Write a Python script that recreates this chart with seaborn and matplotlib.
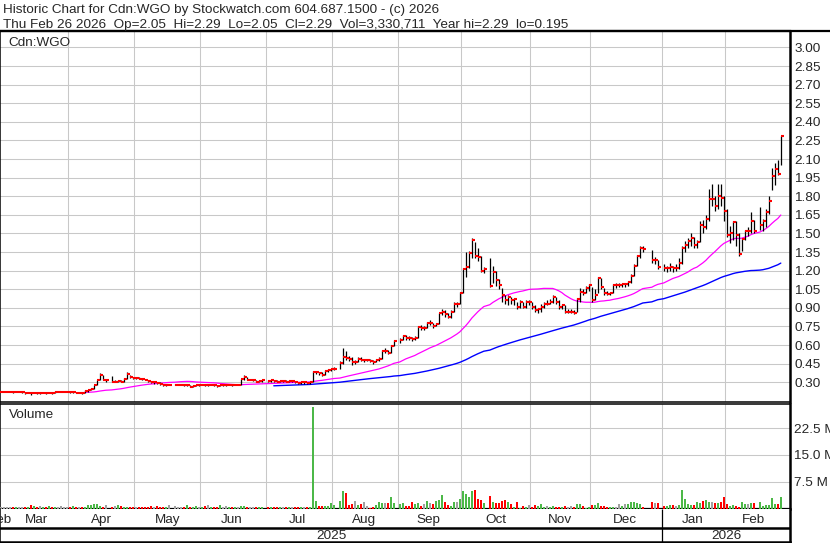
import numpy as np
import pandas as pd
import matplotlib
matplotlib.use("Agg")
import matplotlib.pyplot as plt
from matplotlib.lines import Line2D
import seaborn as sns

# one x slot per weekday; exchange holidays stay as empty slots
first_day, last_day = "2025-02-26", "2026-02-26"
holidays = ["2025-04-18", "2025-05-19", "2025-07-01", "2025-08-04", "2025-09-01",
            "2025-10-13", "2025-12-25", "2025-12-26", "2026-01-01", "2026-02-16"]

# daily bars, one line per month (Feb 2025 ... Feb 2026)
close = [
    0.225, 0.225, 0.225,
    0.225, 0.225, 0.22, 0.225, 0.225, 0.225, 0.21, 0.215, 0.21, 0.215, 0.21, 0.21, 0.215, 0.21, 0.215, 0.21, 0.225, 0.225, 0.225, 0.225, 0.225,
    0.22, 0.225, 0.215, 0.215, 0.21, 0.23, 0.235, 0.245, 0.275, 0.315, 0.355, 0.32, 0.32, 0.305, 0.305, 0.31, 0.305, 0.33, 0.37, 0.34, 0.335,
    0.335, 0.33, 0.325, 0.32, 0.31, 0.30, 0.30, 0.295, 0.29, 0.275, 0.28, 0.28, 0.28, 0.28, 0.28, 0.275, 0.28, 0.262, 0.27, 0.275, 0.275,
    0.28, 0.275, 0.275, 0.28, 0.275, 0.27, 0.275, 0.275, 0.275, 0.28, 0.275, 0.28, 0.28, 0.325, 0.345, 0.32, 0.32, 0.32, 0.305, 0.31, 0.315,
    0.31, 0.315, 0.31, 0.305, 0.31, 0.31, 0.305, 0.31, 0.31, 0.30, 0.295, 0.30, 0.30, 0.295, 0.30, 0.38, 0.385, 0.375, 0.355, 0.39, 0.40, 0.405,
    0.41, 0.455, 0.505, 0.495, 0.49, 0.465, 0.465, 0.49, 0.48, 0.48, 0.48, 0.47, 0.46, 0.48, 0.49, 0.555, 0.555, 0.54, 0.595, 0.635,
    0.64, 0.675, 0.66, 0.655, 0.65, 0.66, 0.745, 0.74, 0.74, 0.78, 0.78, 0.755, 0.77, 0.855, 0.87, 0.85, 0.83, 0.87, 0.935, 0.935, 1.02,
    1.21, 1.23, 1.34, 1.45, 1.32, 1.31, 1.20, 1.21, 1.08, 1.19, 1.125, 1.085, 1.00, 0.96, 0.99, 0.96, 0.97, 0.91, 0.95, 0.91, 0.95, 0.95,
    0.91, 0.885, 0.89, 0.91, 0.935, 0.935, 0.95, 0.985, 0.95, 0.91, 0.92, 0.87, 0.87, 0.87, 0.86, 0.97, 1.03, 1.02, 1.06, 1.085,
    0.965, 1.00, 1.145, 1.07, 1.02, 1.01, 1.02, 1.085, 1.085, 1.085, 1.09, 1.09, 1.11, 1.16, 1.24, 1.315, 1.38, 1.375, 1.29, 1.29, 1.23,
    1.22, 1.225, 1.23, 1.22, 1.22, 1.26, 1.38, 1.41, 1.44, 1.465, 1.405, 1.43, 1.57, 1.55, 1.615, 1.78, 1.78, 1.725, 1.80, 1.79, 1.685,
    1.49, 1.50, 1.59, 1.49, 1.335, 1.455, 1.52, 1.52, 1.60, 1.52, 1.57, 1.60, 1.675, 1.76, 1.966, 2.02, 1.977, 2.29,
]
high = [
    0.23, 0.23, 0.23,
    0.23, 0.23, 0.225, 0.23, 0.23, 0.23, 0.22, 0.22, 0.215, 0.225, 0.215, 0.215, 0.225, 0.215, 0.22, 0.215, 0.23, 0.23, 0.23, 0.23, 0.23,
    0.225, 0.23, 0.22, 0.22, 0.215, 0.235, 0.24, 0.25, 0.28, 0.32, 0.375, 0.36, 0.325, 0.35, 0.315, 0.315, 0.315, 0.335, 0.38, 0.36, 0.345,
    0.34, 0.34, 0.335, 0.33, 0.32, 0.31, 0.305, 0.30, 0.30, 0.29, 0.285, 0.285, 0.285, 0.285, 0.285, 0.285, 0.285, 0.275, 0.275, 0.28, 0.28,
    0.285, 0.28, 0.28, 0.285, 0.28, 0.28, 0.28, 0.28, 0.28, 0.285, 0.28, 0.285, 0.29, 0.33, 0.355, 0.34, 0.33, 0.325, 0.32, 0.315, 0.32,
    0.32, 0.32, 0.315, 0.315, 0.315, 0.32, 0.315, 0.315, 0.315, 0.31, 0.30, 0.305, 0.31, 0.30, 0.305, 0.395, 0.395, 0.385, 0.38, 0.40, 0.405, 0.41,
    0.42, 0.47, 0.575, 0.55, 0.51, 0.50, 0.48, 0.50, 0.50, 0.49, 0.49, 0.49, 0.48, 0.49, 0.50, 0.56, 0.575, 0.56, 0.60, 0.645,
    0.66, 0.685, 0.68, 0.67, 0.665, 0.67, 0.755, 0.76, 0.75, 0.79, 0.80, 0.78, 0.78, 0.86, 0.89, 0.88, 0.86, 0.88, 0.95, 0.95, 1.03,
    1.22, 1.35, 1.36, 1.465, 1.43, 1.38, 1.32, 1.23, 1.30, 1.24, 1.20, 1.13, 1.06, 1.00, 1.00, 0.99, 0.98, 0.95, 0.96, 0.95, 0.96, 0.96,
    0.95, 0.92, 0.90, 0.93, 0.95, 0.96, 0.97, 1.00, 0.99, 0.96, 0.93, 0.92, 0.89, 0.89, 0.88, 0.98, 1.06, 1.05, 1.08, 1.09,
    1.07, 1.05, 1.15, 1.14, 1.06, 1.04, 1.03, 1.09, 1.10, 1.10, 1.10, 1.10, 1.12, 1.17, 1.25, 1.33, 1.40, 1.40, 1.37, 1.31, 1.29,
    1.25, 1.24, 1.26, 1.24, 1.25, 1.30, 1.40, 1.44, 1.46, 1.50, 1.47, 1.45, 1.60, 1.61, 1.65, 1.86, 1.90, 1.80, 1.90, 1.90, 1.80,
    1.70, 1.56, 1.60, 1.60, 1.50, 1.46, 1.53, 1.55, 1.67, 1.61, 1.71, 1.62, 1.70, 1.80, 2.03, 2.07, 2.09, 2.29,
]
low = [
    0.22, 0.22, 0.22,
    0.22, 0.22, 0.215, 0.22, 0.22, 0.215, 0.205, 0.21, 0.195, 0.21, 0.205, 0.205, 0.21, 0.205, 0.21, 0.205, 0.215, 0.22, 0.22, 0.22, 0.22,
    0.215, 0.215, 0.21, 0.21, 0.205, 0.215, 0.225, 0.235, 0.245, 0.275, 0.315, 0.315, 0.30, 0.30, 0.30, 0.30, 0.30, 0.305, 0.33, 0.335, 0.33,
    0.325, 0.325, 0.32, 0.315, 0.305, 0.295, 0.29, 0.285, 0.28, 0.27, 0.27, 0.275, 0.275, 0.275, 0.275, 0.27, 0.27, 0.26, 0.26, 0.27, 0.27,
    0.275, 0.27, 0.27, 0.275, 0.27, 0.265, 0.27, 0.27, 0.27, 0.275, 0.27, 0.275, 0.275, 0.28, 0.32, 0.315, 0.315, 0.31, 0.30, 0.30, 0.305,
    0.305, 0.305, 0.30, 0.30, 0.30, 0.305, 0.30, 0.30, 0.30, 0.295, 0.285, 0.29, 0.29, 0.285, 0.29, 0.30, 0.37, 0.36, 0.35, 0.355, 0.385, 0.39,
    0.40, 0.41, 0.45, 0.48, 0.47, 0.44, 0.45, 0.46, 0.47, 0.465, 0.47, 0.46, 0.45, 0.46, 0.47, 0.49, 0.54, 0.53, 0.54, 0.59,
    0.62, 0.64, 0.64, 0.64, 0.635, 0.64, 0.66, 0.72, 0.72, 0.74, 0.76, 0.74, 0.75, 0.77, 0.84, 0.83, 0.82, 0.82, 0.87, 0.91, 0.93,
    1.02, 1.15, 1.22, 1.30, 1.30, 1.28, 1.19, 1.18, 1.07, 1.10, 1.08, 1.05, 0.95, 0.93, 0.92, 0.93, 0.92, 0.89, 0.90, 0.90, 0.90, 0.92,
    0.89, 0.87, 0.86, 0.87, 0.90, 0.92, 0.93, 0.94, 0.93, 0.89, 0.89, 0.86, 0.86, 0.86, 0.85, 0.87, 0.95, 1.00, 1.02, 1.04,
    0.95, 0.96, 1.02, 1.05, 1.00, 1.00, 1.00, 1.02, 1.06, 1.07, 1.07, 1.07, 1.08, 1.10, 1.16, 1.24, 1.30, 1.35, 1.26, 1.25, 1.21,
    1.20, 1.19, 1.20, 1.19, 1.20, 1.21, 1.25, 1.35, 1.38, 1.40, 1.38, 1.38, 1.43, 1.50, 1.54, 1.60, 1.72, 1.68, 1.70, 1.72, 1.60,
    1.47, 1.42, 1.45, 1.40, 1.32, 1.36, 1.45, 1.48, 1.50, 1.50, 1.53, 1.52, 1.55, 1.66, 1.85, 1.89, 1.97, 2.05,
]
# millions of shares
volume = [
    0.3, 0.3, 0.5,
    0.3, 0.3, 0.3, 0.4, 0.3, 0.3, 0.4, 0.4, 1.0, 0.6, 0.3, 0.7, 0.4, 0.4, 0.6, 0.3, 0.5, 0.3, 0.6, 0.3, 0.3,
    0.3, 0.6, 0.4, 0.5, 0.3, 0.4, 0.9, 1.0, 1.2, 1.2, 0.7, 0.4, 1.0, 0.5, 0.7, 0.9, 0.6, 0.4, 0.4, 0.3, 0.3,
    0.3, 0.3, 0.4, 0.3, 0.4, 0.7, 0.3, 0.6, 0.3, 0.3, 0.3, 0.9, 0.6, 0.3, 0.4, 0.4, 0.9, 0.4, 0.3, 0.6, 0.3,
    0.4, 0.6, 1.0, 0.4, 0.4, 0.3, 0.9, 0.4, 0.6, 0.3, 0.3, 0.4, 0.3, 0.6, 0.7, 0.4, 0.3, 0.3, 0.3, 0.3, 0.3,
    0.3, 0.3, 0.3, 0.4, 0.3, 0.3, 0.3, 0.4, 0.3, 0.3, 0.3, 0.3, 0.3, 0.3, 0.3, 28.5, 2.06, 0.65, 0.65, 0.65, 0.65, 1.59,
    0.94, 2.06, 4.9, 4.4, 0.94, 1.2, 2.06, 0.94, 1.2, 1.78, 0.65, 0.2, 0.4, 0.94, 1.78, 1.6, 1.6, 1.6, 3.2, 1.6,
    1.2, 1.6, 0.76, 0.76, 1.78, 1.2, 1.6, 0.76, 1.2, 2.15, 1.6, 1.2, 2.15, 2.5, 3.84, 1.78, 1.03, 0.65, 1.88, 1.88, 2.62,
    4.9, 4.1, 3.3, 4.9, 5.2, 2.62, 2.34, 1.6, 3.6, 1.78, 1.6, 1.6, 2.15, 2.34, 1.78, 1.22, 0.48, 1.78, 0.2, 0.65, 0.4, 0.94,
    0.4, 0.94, 0.65, 1.22, 0.4, 0.65, 0.4, 0.65, 0.48, 0.4, 0.4, 0.65, 0.48, 0.65, 0.4, 1.22, 1.22, 0.65, 0.2, 0.4,
    0.94, 0.94, 1.6, 0.65, 0.65, 0.48, 0.4, 0.4, 0.48, 1.22, 0.65, 1.22, 1.22, 1.78, 1.78, 1.6, 1.22, 0.4, 1.78, 1.6, 1.6,
    0.65, 0.65, 0.94, 0.94, 0.65, 0.94, 5.1, 2.8, 1.4, 0.94, 0.94, 1.9, 1.6, 2.15, 2.34, 1.78, 1.78, 1.6, 1.6, 1.9, 3.1,
    1.4, 0.65, 0.94, 0.65, 0.4, 1.78, 1.2, 1.2, 1.6, 1.6, 1.78, 0.65, 0.94, 0.94, 2.98, 1.4, 1.2, 3.33,
]

price_ticks = [0.30, 0.45, 0.60, 0.75, 0.90, 1.05, 1.20, 1.35, 1.50, 1.65,
               1.80, 1.95, 2.10, 2.25, 2.40, 2.55, 2.70, 2.85, 3.00]
vol_ticks = [7.5, 15.0, 22.5]
vol_tick_labels = ["7.5 M", "15.0 M", "22.5 M"]
title_lines = ["Historic Chart for Cdn:WGO by Stockwatch.com 604.687.1500 - (c) 2026",
               "Thu Feb 26 2026  Op=2.05  Hi=2.29  Lo=2.05  Cl=2.29  Vol=3,330,711  Year hi=2.29  lo=0.195"]
symbol = "Cdn:WGO"

# build the daily frame
days = pd.bdate_range(first_day, last_day)
cal = pd.DataFrame({"date": days, "slot": np.arange(len(days))})
df = cal[~cal["date"].isin(pd.to_datetime(holidays))].reset_index(drop=True)
df["close"] = close
df["high"] = high
df["low"] = low
df["volume"] = volume
df["ma30"] = df["close"].rolling(30).mean()
df["ma90"] = df["close"].rolling(90).mean()
chg = df["close"].diff()
df["vcol"] = np.where(chg > 0, "#4cb848", np.where(chg < 0, "#ff0000", "#a0a0a0"))

# layout in pixels
W, H = 830, 543
SLOT_PX = 3.0
x_lo = 2.2 / SLOT_PX
x_hi = x_lo + 790 / SLOT_PX


def px_box(x0, y0, x1, y1):
    return [x0 / W, 1 - y1 / H, (x1 - x0) / W, (y1 - y0) / H]


sns.set_style("white")
plt.rcParams["font.family"] = ["Liberation Sans", "DejaVu Sans"]
FS = 9.7
GRID = "#c8c8c8"

fig = plt.figure(figsize=(W / 100, H / 100), dpi=100)
ax_p = fig.add_axes(px_box(0, 31, 790, 401.5))
ax_v = fig.add_axes(px_box(0, 403.5, 790, 508.5))
ax_d = fig.add_axes(px_box(0, 508.5, 790, 542))

# month boundaries (first trading day of each month)
mkey = df["date"].dt.to_period("M")
bounds = df.groupby(mkey)["slot"].min() - 0.5
bounds = bounds[bounds > x_lo + 3]

# price panel
ax_p.vlines(df["slot"], df["low"], df["high"], colors="black", lw=0.9, zorder=3)
ax_p.hlines(df["close"], df["slot"], df["slot"] + 0.95, colors="red", lw=1.5, zorder=4)
sns.lineplot(data=df.dropna(subset=["ma30"]), x="slot", y="ma30", ax=ax_p,
             color="#ff00ff", lw=0.9, zorder=2)
sns.lineplot(data=df.dropna(subset=["ma90"]), x="slot", y="ma90", ax=ax_p,
             color="#0000ff", lw=1.0, zorder=2)
ax_p.set_xlim(x_lo, x_hi)
ax_p.set_ylim(0.145, 3.133)
ax_p.set_yticks(price_ticks)
ax_p.set_yticklabels([f"{t:.2f}" for t in price_ticks])
ax_p.yaxis.tick_right()
ax_p.set_xticks(bounds.values)
ax_p.tick_params(axis="x", length=0, labelbottom=False)
ax_p.tick_params(axis="y", length=0, pad=3, labelsize=FS)
ax_p.grid(True, color=GRID, lw=0.75)
ax_p.set_xlabel("")
ax_p.set_ylabel("")
ax_p.text(8 / 790, 1 - (45.5 - 31) / 370.5, symbol, transform=ax_p.transAxes,
          fontsize=FS, va="baseline", ha="left")

# volume panel
ax_v.bar(df["slot"], df["volume"], width=0.7, color=df["vcol"], linewidth=0, zorder=3)
ax_v.set_xlim(x_lo, x_hi)
ax_v.set_ylim(0, 29.4)
ax_v.set_yticks(vol_ticks)
ax_v.set_yticklabels(vol_tick_labels)
ax_v.yaxis.tick_right()
ax_v.set_xticks(bounds.values)
ax_v.tick_params(axis="x", length=0, labelbottom=False)
ax_v.tick_params(axis="y", length=0, pad=3, labelsize=FS)
ax_v.grid(True, color=GRID, lw=0.75)
ax_v.text(9 / 790, 1 - (418 - 403.5) / 105, "Volume", transform=ax_v.transAxes,
          fontsize=FS, va="baseline", ha="left")

for ax in (ax_p, ax_v):
    for side in ("left", "right", "top", "bottom"):
        ax.spines[side].set_color("black")
    ax.spines["left"].set_linewidth(1.1)
    ax.spines["right"].set_linewidth(1.8)
    ax.spines["top"].set_linewidth(1.1)
    ax.spines["bottom"].set_linewidth(1.1)
ax_p.spines["top"].set_linewidth(1.6)
ax_v.spines["bottom"].set_linewidth(1.6)

# date rows: months on top, years below
ax_d.set_xlim(x_lo, x_hi)
ax_d.set_ylim(542, 508.5)
ax_d.set_xticks([])
ax_d.set_yticks([])
for side in ("left", "right", "bottom", "top"):
    ax_d.spines[side].set_color("black")
ax_d.spines["top"].set_visible(False)
ax_d.spines["left"].set_linewidth(1.1)
ax_d.spines["right"].set_linewidth(1.8)
ax_d.spines["bottom"].set_linewidth(1.8)

cmonth = cal["date"].dt.to_period("M")
centers = cal.groupby(cmonth)["slot"].agg(lambda s: (s.min() + s.max()) / 2)
for per, cx in centers.items():
    ax_d.text(cx, 523.3, per.strftime("%b"), ha="center", va="baseline",
              fontsize=FS, clip_on=True)

jan_sep = df.loc[df["date"].dt.year == 2026, "slot"].min() - 0.5
ax_d.axhline(527.5, color="black", lw=1.8)
ax_d.vlines(jan_sep, 508.5, 542, colors="black", lw=0.9)
ax_d.text((x_lo + jan_sep) / 2, 539.3, "2025", ha="center", va="baseline", fontsize=FS)
ax_d.text((jan_sep + x_hi) / 2, 539.3, "2026", ha="center", va="baseline", fontsize=FS)

# header
fig.text(3 / W, 1 - 12.6 / H, title_lines[0], fontsize=FS, va="baseline", ha="left")
fig.text(3 / W, 1 - 27.6 / H, title_lines[1], fontsize=FS, va="baseline", ha="left")
fig.add_artist(Line2D([0, 1], [1 - 30.6 / H] * 2, color="black", lw=1.6))

fig.savefig("out.png", dpi=100, facecolor="white")
